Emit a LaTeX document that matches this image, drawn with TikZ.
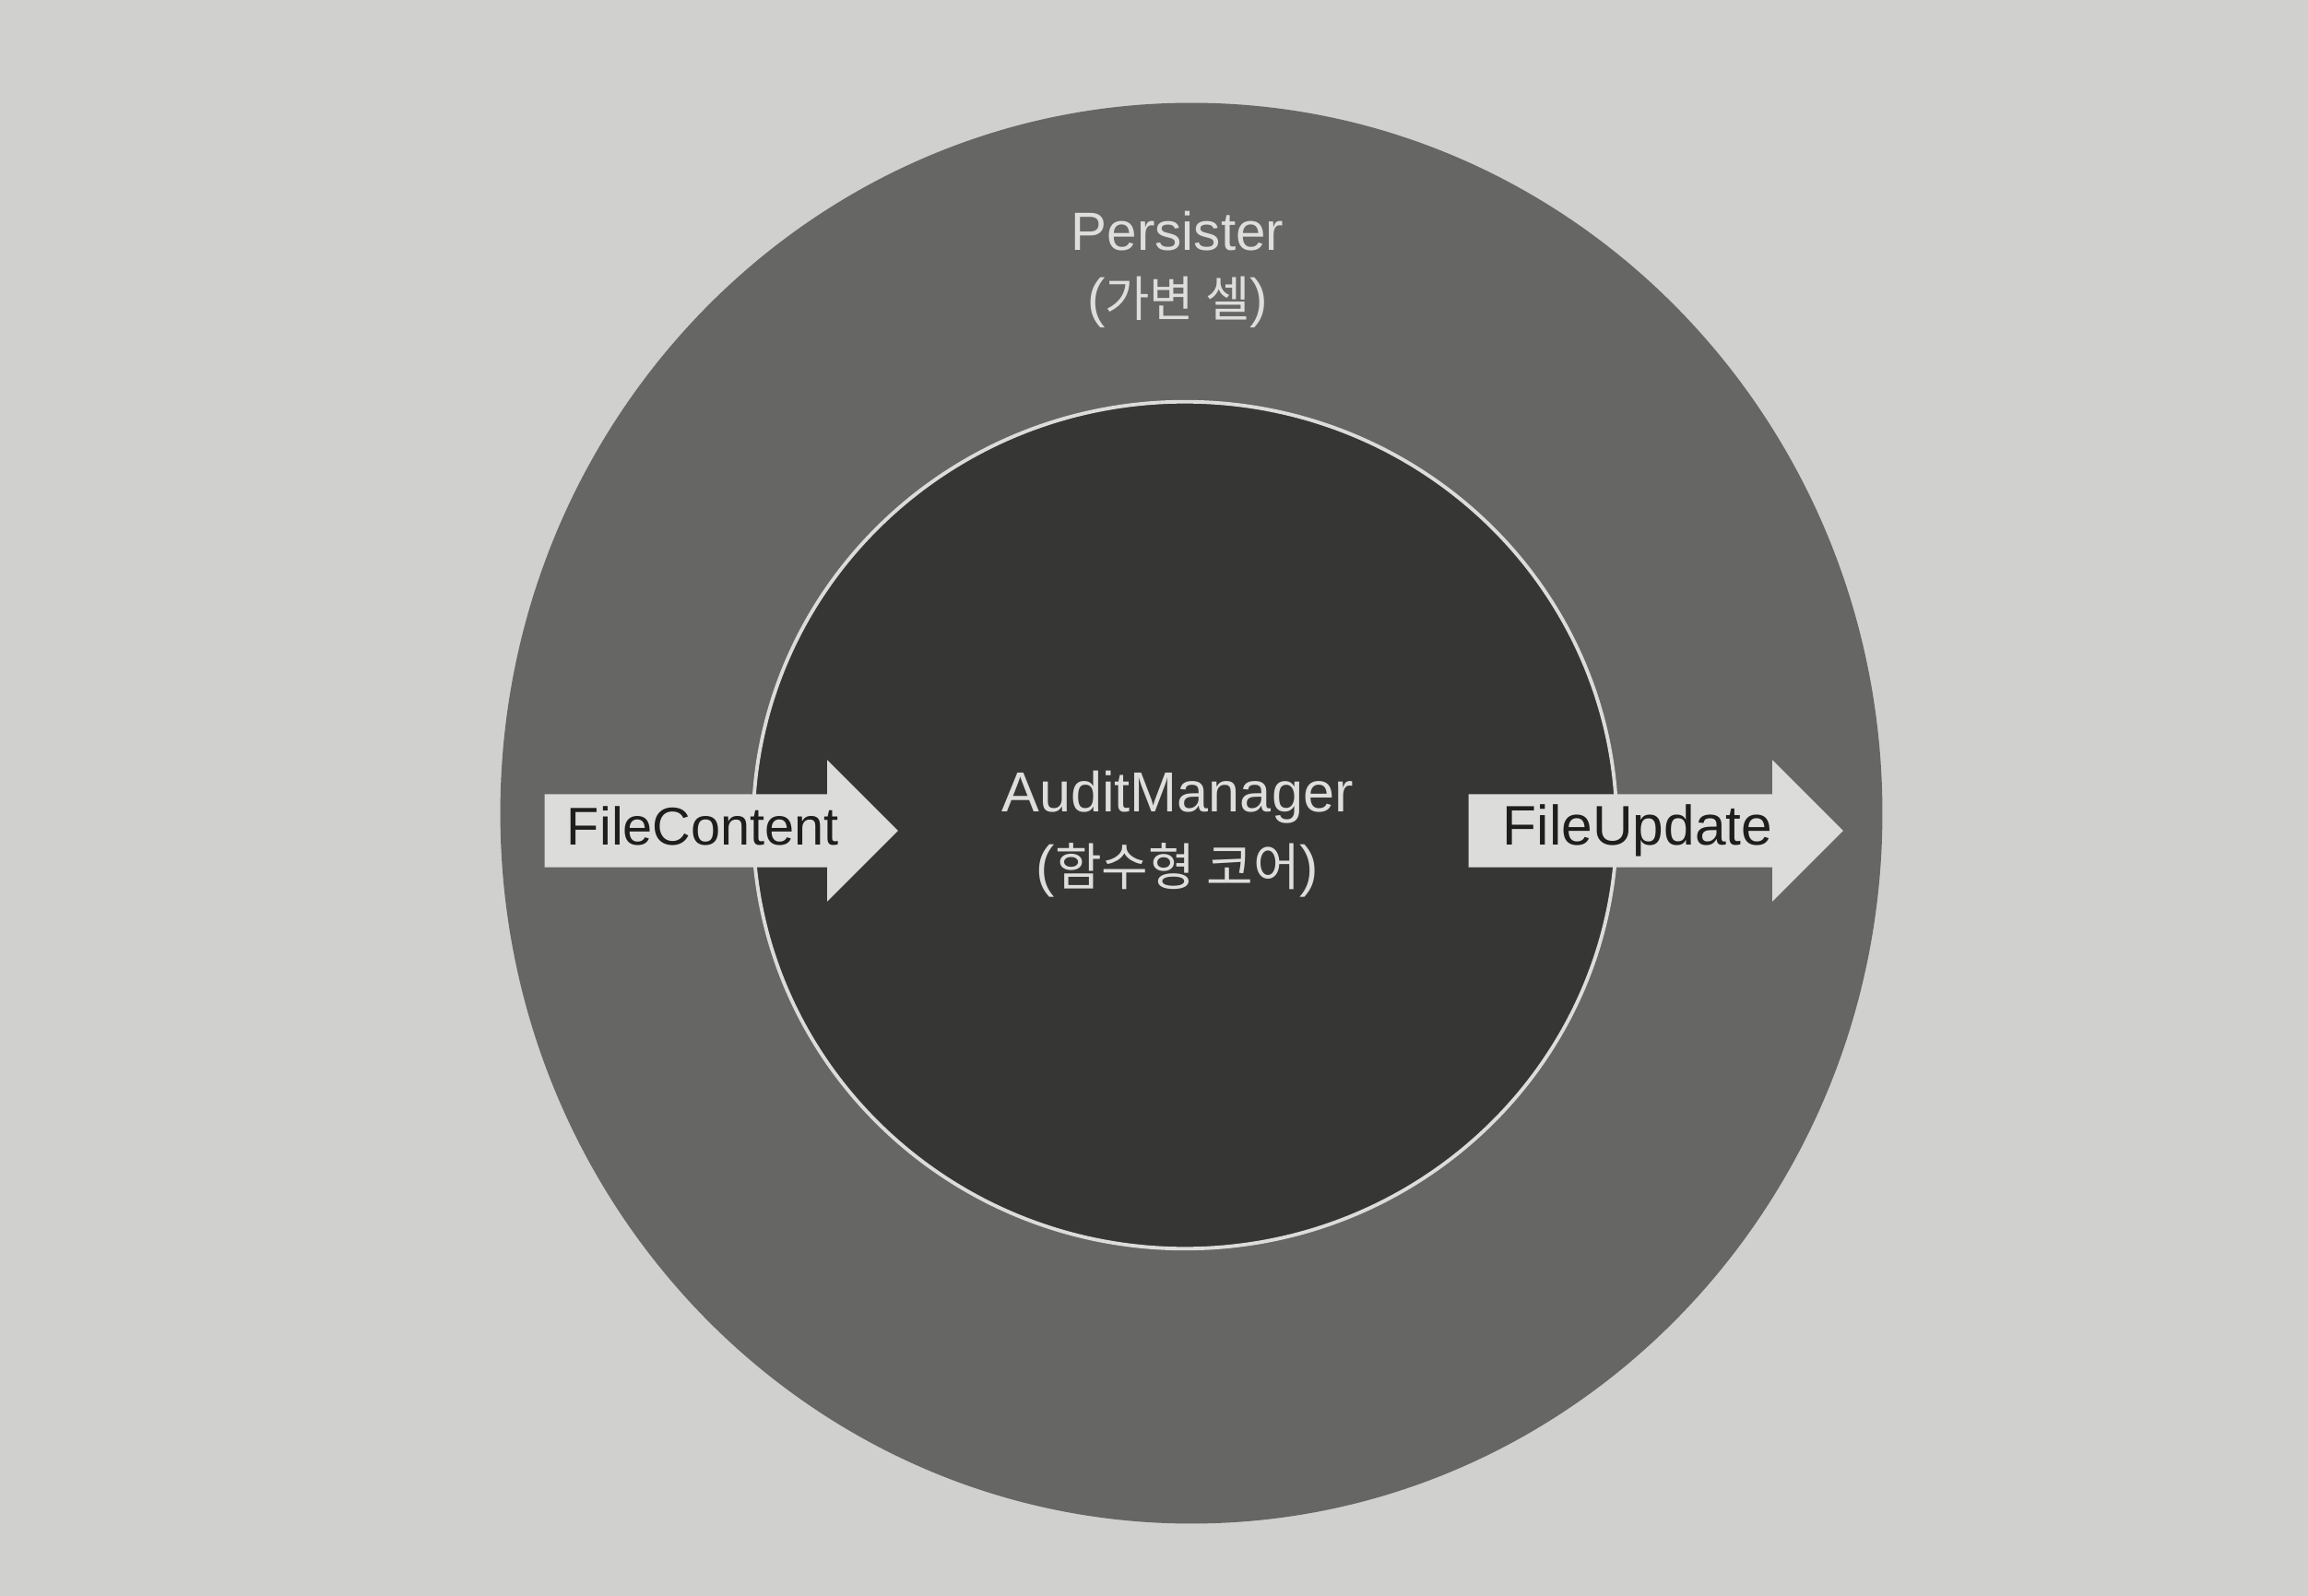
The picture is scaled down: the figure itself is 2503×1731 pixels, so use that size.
\documentclass[tikz,border=0pt]{standalone}
\usepackage{fontspec}
\setmainfont{Liberation Sans}
\newfontfamily\krfont[Scale=0.9]{Noto Sans CJK KR}
\usetikzlibrary{shapes.geometric,shapes.arrows}

\definecolor{paper}{HTML}{D0D0CE}
\definecolor{outergray}{HTML}{666664}
\definecolor{innergray}{HTML}{363634}
\definecolor{ringline}{HTML}{DCDCDA}
\definecolor{arrowgray}{HTML}{DCDCDA}
\definecolor{textdark}{HTML}{1E1E1E}
\definecolor{textlight}{HTML}{DEDEDC}

\tikzset{
	ring/.style={ellipse,inner sep=0pt,draw=none},
	ringlabel/.style={align=center,text=textlight},
	flowarrow/.style={single arrow,fill=arrowgray,draw=none,anchor=tail,
		single arrow head extend=0.37cm,text height=0.43cm,text depth=0.13cm,
		inner ysep=0.11cm,inner xsep=0.05cm,text=textdark}
}

\begin{document}
\begin{tikzpicture}[x=0.01cm,y=-0.01cm]
	\useasboundingbox[fill=paper] (0,0) rectangle (2503,1731);
	\coordinate (c1) at (1292,882);
	\coordinate (c2) at (1285,895);
	\node[ring,fill=outergray,minimum width=14.98cm,minimum height=15.4cm] (persister) at (c1){};
	\node[ring,fill=innergray,draw=ringline,line width=1.1pt,minimum width=9.36cm,minimum height=9.18cm] (auditmanager) at (c2){};
	\node[ringlabel,font=\fontsize{16.6pt}{20.5pt}\selectfont] (persisterlabel) at (1277,292){Persister\\({\krfont 가변 셀})};
	\node[ringlabel,font=\fontsize{17.4pt}{22.7pt}\selectfont] (auditlabel) at (1277,905){AuditManager\\({\krfont 함수형 코어})};
	\node[flowarrow,font=\fontsize{16.4pt}{20pt}\selectfont,minimum height=3.83cm] (filecontent) at (590,901){FileContent};
	\node[flowarrow,font=\fontsize{17.2pt}{20pt}\selectfont,minimum height=4.06cm] (fileupdate) at (1592,901){FileUpdate};
\end{tikzpicture}
\end{document}
